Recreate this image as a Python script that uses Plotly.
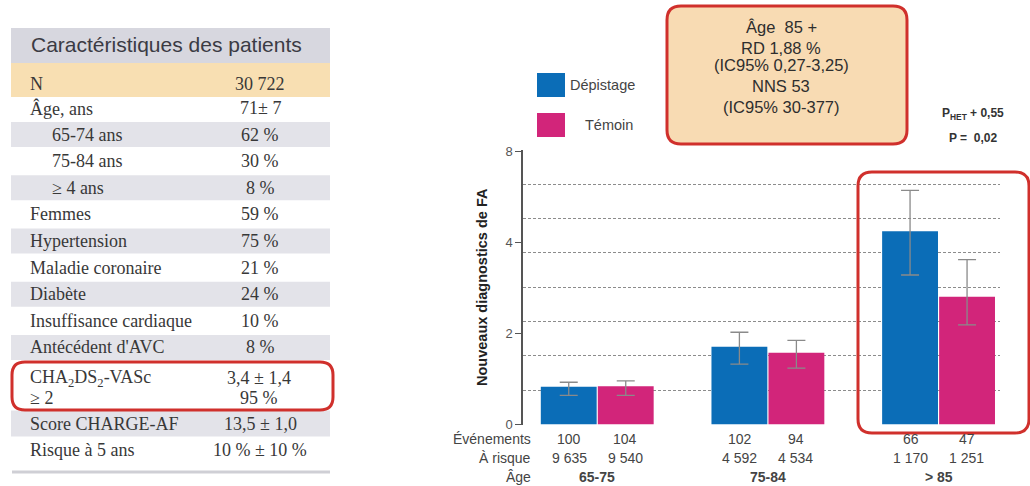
import plotly.graph_objects as go

W, H = 1030, 486

# ---- patient characteristics table ----
table_title = "Caractéristiques des patients"
n_label, n_value = "N", "30 722"
row_labels = ["Âge, ans", "65-74 ans", "75-84 ans", "≥ 4 ans", "Femmes", "Hypertension",
              "Maladie coronaire", "Diabète", "Insuffisance cardiaque", "Antécédent d'AVC"]
row_values = ["71± 7", "62 %", "30 %", "8 %", "59 %", "75 %", "21 %", "24 %", "10 %", "8 %"]
row_indented = [False, True, True, True, False, False, False, False, False, False]
cha_labels = ["CHA<sub>2</sub>DS<sub>2</sub>-VASc", "≥ 2"]
cha_values = ["3,4 ± 1,4", "95 %"]
tail_labels = ["Score CHARGE-AF", "Risque à 5 ans"]
tail_values = ["13,5 ± 1,0", "10 % ± 10 %"]

# ---- new AF diagnoses by age group ----
age_groups = ["65-75", "75-84", "> 85"]
depistage = [0.83, 1.71, 4.25]
depistage_hi = [0.93, 2.03, 5.15]
depistage_lo = [0.64, 1.33, 3.29]
temoin = [0.84, 1.58, 2.81]
temoin_hi = [0.96, 1.85, 3.63]
temoin_lo = [0.64, 1.24, 2.19]
evenements_dep = ["100", "102", "66"]
evenements_tem = ["104", "94", "47"]
risque_dep = ["9 635", "4 592", "1 170"]
risque_tem = ["9 540", "4 534", "1 251"]
y_tickvals = [0, 2, 4, 6]
y_ticktext = ["0", "2", "4", "8"]

info_lines = ["Âge  85 +", "RD 1,88 %", "(IC95% 0,27-3,25)", "NNS 53", "(IC95% 30-377)"]
p_lines = ["<b>P<sub>HET</sub> + 0,55</b>", "<b>P =  0,02</b>"]

BLUE = "#0b6db7"
PINK = "#d2257a"
RED = "#d0302c"
SANS = "Liberation Sans, Arial, sans-serif"
SERIF = "Liberation Serif, Times New Roman, serif"


def px(x):
    return x / W


def py(y):
    return 1 - y / H


def rect(x0, y0, x1, y1, fill, line=None, lw=0):
    return dict(type="rect", xref="paper", yref="paper", layer="below",
                x0=px(x0), x1=px(x1), y0=py(y1), y1=py(y0),
                fillcolor=fill, line=dict(color=line or fill, width=lw))


def rounded(x0, y0, x1, y1, r, fill, line, lw, layer="above"):
    segs = [("M", [(x0 + r, y0)]), ("L", [(x1 - r, y0)]), ("Q", [(x1, y0), (x1, y0 + r)]),
            ("L", [(x1, y1 - r)]), ("Q", [(x1, y1), (x1 - r, y1)]), ("L", [(x0 + r, y1)]),
            ("Q", [(x0, y1), (x0, y1 - r)]), ("L", [(x0, y0 + r)]), ("Q", [(x0, y0), (x0 + r, y0)])]
    path = " ".join(c + " " + " ".join(f"{px(a):.5f},{py(b):.5f}" for a, b in pts) for c, pts in segs) + " Z"
    return dict(type="path", xref="paper", yref="paper", path=path, layer=layer,
                fillcolor=fill, line=dict(color=line, width=lw))


def text(x, y, s, size, color="#333", family=SANS, xanchor="center", **kw):
    return dict(x=px(x), y=py(y), xref="paper", yref="paper", text=s, showarrow=False,
                xanchor=xanchor, yanchor="middle", font=dict(size=size, color=color, family=family), **kw)


shapes = []
annotations = []

# table bands
shapes.append(rect(11, 28, 330, 63, "#d7d7df"))
shapes.append(rect(11, 63, 330, 97, "#f8dfb2"))
row_y = [108 + 26.6 * i for i in range(len(row_labels))]
for i, y in enumerate(row_y):
    if i % 2 == 1:
        shapes.append(rect(11, y - 12.5, 330, y + 12.5, "#e3e3e9"))
tail_y = [423.5, 450]
shapes.append(rect(11, tail_y[0] - 13, 330, tail_y[0] + 13, "#e3e3e9"))
shapes.append(rect(12, 470.5, 330, 473.5, "#cfcfd5"))
shapes.append(rounded(12, 362, 333, 410, 13, "rgba(0,0,0,0)", RED, 3))

TXT = "#383838"
annotations.append(text(29, 45, table_title, 21, "#3b3b44", SANS, "left"))
annotations.append(text(28, 84, n_label, 18, TXT, SERIF, "left"))
annotations.append(text(260, 84, n_value, 18, TXT, SERIF))
for lab, val, ind, y in zip(row_labels, row_values, row_indented, row_y):
    annotations.append(text(50 if ind else 28, y, lab, 18, TXT, SERIF, "left"))
    annotations.append(text(260, y, val, 18, TXT, SERIF))
for lab, val, y in zip(cha_labels, cha_values, [378, 398]):
    annotations.append(text(28, y, lab, 18, TXT, SERIF, "left"))
    annotations.append(text(259, y, val, 18, TXT, SERIF))
for lab, val, y in zip(tail_labels, tail_values, tail_y):
    annotations.append(text(28, y, lab, 18, TXT, SERIF, "left"))
    annotations.append(text(260, y, val, 18, TXT, SERIF))

# legend swatches
shapes.append(rect(537, 73, 565, 97, BLUE))
shapes.append(rect(537, 113, 565, 137, PINK))
annotations.append(text(602, 85, "Dépistage", 14.5, "#444"))
annotations.append(text(609, 125, "Témoin", 14.5, "#444"))

# summary box for the oldest group
shapes.append(rounded(667, 6, 907, 144, 14, "#f8dbb3", RED, 3))
for s, y in zip(info_lines, [27, 48, 65, 86, 107]):
    annotations.append(text(781, y, s, 16.5, "#2e2e2e"))
for s, y in zip(p_lines, [114, 138]):
    annotations.append(text(973, y, s, 12, "#333"))

# highlight frame around the > 85 group
shapes.append(rounded(858, 172, 1029, 433, 14, "rgba(0,0,0,0)", RED, 3))

# y title
annotations.append(text(482, 287, "<b>Nouveaux diagnostics de FA</b>", 14.5, "#222", SANS, textangle=-90))

# counts under the bars
for lab, y in zip(["Événements", "À risque", "Âge"], [439, 458, 477]):
    annotations.append(text(533, y, lab, 14, "#444", SANS, "right"))
for g, ed, et, rd, rt in zip(age_groups, evenements_dep, evenements_tem, risque_dep, risque_tem):
    for s, y, shift in [(ed, 439, -28), (et, 439, 28), (rd, 458, -28), (rt, 458, 28)]:
        annotations.append(dict(x=g, xref="x", y=py(y), yref="paper", text=s, showarrow=False,
                                xshift=shift, xanchor="center", yanchor="middle",
                                font=dict(size=14, color="#444", family=SANS)))
    annotations.append(dict(x=g, xref="x", y=py(477), yref="paper", text=f"<b>{g}</b>", showarrow=False,
                            xanchor="center", yanchor="middle",
                            font=dict(size=14, color="#444", family=SANS)))

err_style = dict(type="data", color="#8a8a8a", thickness=1.3, width=9)

fig = go.Figure()
fig.add_trace(go.Bar(
    x=age_groups, y=depistage, name="Dépistage", marker=dict(color=BLUE, line=dict(width=0)),
    error_y=dict(array=[h - v for h, v in zip(depistage_hi, depistage)],
                 arrayminus=[v - l for v, l in zip(depistage, depistage_lo)], **err_style),
))
fig.add_trace(go.Bar(
    x=age_groups, y=temoin, name="Témoin", marker=dict(color=PINK, line=dict(width=0)),
    error_y=dict(array=[h - v for h, v in zip(temoin_hi, temoin)],
                 arrayminus=[v - l for v, l in zip(temoin, temoin_lo)], **err_style),
))
# carrier trace for the dotted background grid axis
fig.add_trace(go.Scatter(x=[], y=[], yaxis="y2", showlegend=False, hoverinfo="skip"))

fig.update_layout(
    width=W, height=H, autosize=False,
    margin=dict(l=0, r=0, t=0, b=0, pad=0, autoexpand=False),
    paper_bgcolor="white", plot_bgcolor="white",
    showlegend=False,
    barmode="group", bargap=0.332, bargroupgap=0.02,
    xaxis=dict(domain=[px(523), px(1000)], type="category", range=[-0.435, 2.36],
               showticklabels=False, showgrid=False, zeroline=False, showline=False, ticks="",
               automargin=False),
    yaxis=dict(domain=[(H - 424.5) / H, (H - 150) / H], range=[0, 6.04], automargin=False,
               tickvals=y_tickvals, ticktext=y_ticktext, showgrid=False, zeroline=False,
               showline=True, linecolor="#555", linewidth=1.5, ticks="outside", ticklen=6,
               tickcolor="#555", tickwidth=1.2, tickfont=dict(size=13, color="#555", family=SANS)),
    yaxis2=dict(overlaying="y", range=[0, 8], tick0=0, dtick=1, showgrid=True, automargin=False,
                gridcolor="#8c8c8c", griddash="3px,2px", gridwidth=1,
                showticklabels=False, ticks="", showline=False, zeroline=False),
    shapes=shapes,
    annotations=annotations,
)

fig.write_html("out.html")
